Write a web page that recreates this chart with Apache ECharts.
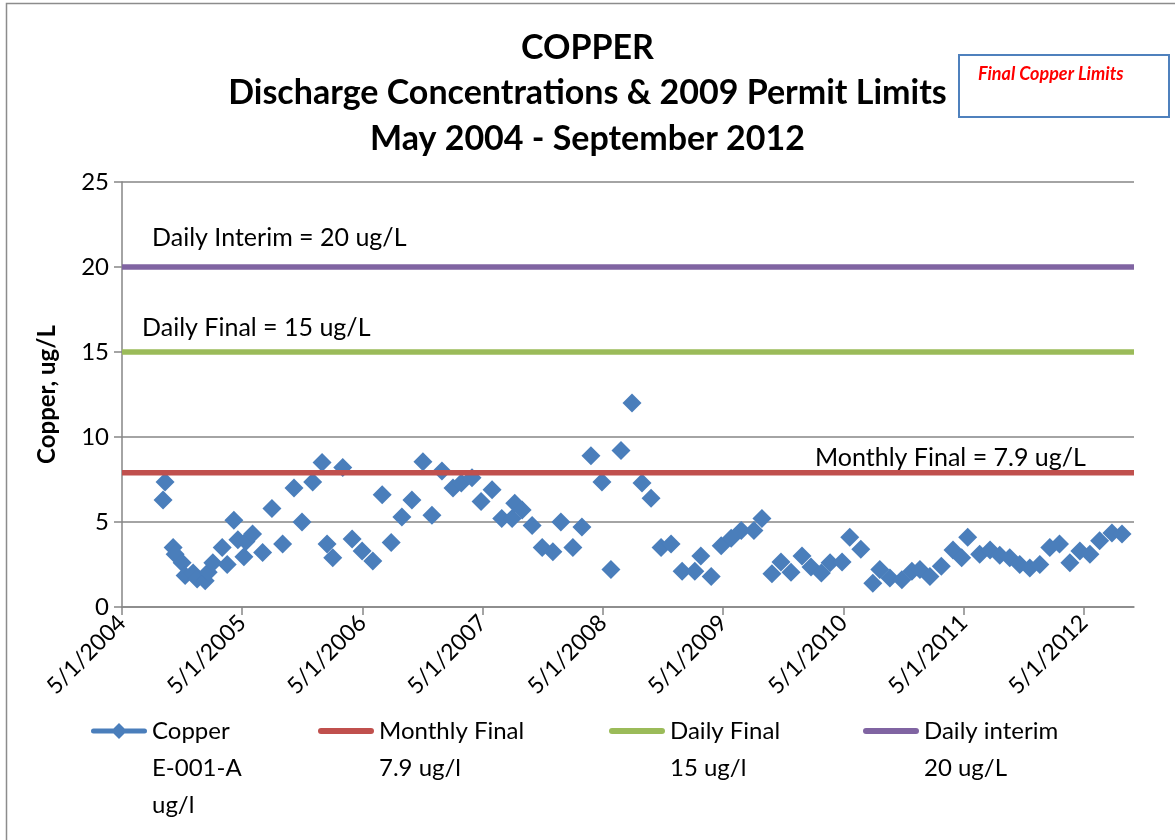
<!DOCTYPE html>
<html>
<head>
<meta charset="utf-8">
<script src="https://cdn.jsdelivr.net/npm/echarts@6/dist/echarts.min.js"></script>
<style>
html,body{margin:0;padding:0;background:#fff;}
#chart{width:1175px;height:840px;}
</style>
</head>
<body>
<div id="chart"></div>
<script>
// ---- data ----
const sampleDates = [
'2004-09-04','2004-09-10','2004-10-04','2004-10-10','2004-11-01','2004-11-10','2004-12-04','2004-12-16',
'2005-01-10','2005-01-19','2005-02-03','2005-03-01','2005-03-16','2005-04-06','2005-04-18','2005-05-06',
'2005-05-12','2005-06-02','2005-07-02','2005-07-30','2005-09-02','2005-10-06','2005-10-30','2005-12-02',
'2005-12-30','2006-01-15','2006-02-02','2006-03-02','2006-03-30','2006-04-30','2006-06-02','2006-06-30',
'2006-07-27','2006-08-29','2006-09-29','2006-11-02','2006-11-29','2006-12-29','2007-02-02','2007-02-27',
'2007-03-29','2007-04-26','2007-05-29','2007-06-28','2007-07-29','2007-08-07','2007-08-29','2007-09-29',
'2007-10-29','2007-12-01','2007-12-25','2008-02-01','2008-02-28','2008-03-25','2008-04-28','2008-05-25',
'2008-06-25','2008-07-28','2008-08-28','2008-09-25','2008-10-25','2008-11-25','2008-12-28','2009-02-06',
'2009-02-24','2009-03-25','2009-04-25','2009-05-25','2009-06-25','2009-08-03','2009-08-27','2009-09-27',
'2009-10-24','2009-11-24','2009-12-27','2010-01-24','2010-02-25','2010-03-21','2010-04-27','2010-05-20',
'2010-06-23','2010-07-29','2010-08-20','2010-09-20','2010-10-26','2010-11-26','2010-12-20','2011-01-20',
'2011-02-24','2011-03-29','2011-04-25','2011-05-13','2011-06-19','2011-07-20','2011-08-19','2011-09-19',
'2011-10-19','2011-11-19','2011-12-19','2012-01-19','2012-02-18','2012-03-19','2012-04-19','2012-05-19',
'2012-06-18','2012-07-25','2012-08-25'
];
const copperValues = [
6.3,7.35,3.5,3.1,2.6,1.85,2.0,1.65,
1.55,2.05,2.6,3.5,2.5,5.1,3.95,2.95,
3.85,4.3,3.2,5.8,3.7,7.0,5.0,7.35,
8.5,3.7,2.9,8.2,4.0,3.3,2.7,6.6,
3.8,5.3,6.3,8.55,5.4,8.0,7.0,7.3,
7.6,6.2,6.9,5.2,5.2,6.1,5.7,4.8,
3.5,3.25,5.0,3.5,4.7,8.9,7.35,2.2,
9.2,12.0,7.3,6.4,3.5,3.7,2.1,2.1,
3.0,1.8,3.6,4.05,4.5,4.5,5.2,1.95,
2.65,2.05,3.0,2.35,2.0,2.6,2.65,4.1,
3.4,1.4,2.2,1.7,1.6,2.1,2.2,1.8,
2.4,3.35,2.9,4.1,3.1,3.35,3.05,2.9,
2.5,2.3,2.5,3.5,3.7,2.6,3.3,3.1,
3.9,4.35,4.3
];
const limitNames = ['Monthly Final\n7.9 ug/l', 'Daily Final\n15 ug/l', 'Daily interim\n20 ug/L'];
const limitValues = [7.9, 15, 20];
const limitLabels = ['Monthly Final = 7.9 ug/L', 'Daily Final = 15 ug/L', 'Daily Interim = 20 ug/L'];
const copperName = 'Copper\nE-001-A\nug/l';
const tickLabels = ['5/1/2004','5/1/2005','5/1/2006','5/1/2007','5/1/2008','5/1/2009','5/1/2010','5/1/2011','5/1/2012'];
// axis start = 5/1/2004, end = 10/1/2012 (in months since start)
const xStartMonth = 0, xEndMonth = 101;

// ---- helpers ----
function toMonth(s){const p=s.split('-').map(Number);return (p[0]-2004)*12+(p[1]-5)+(p[2]-1)/30;}
const copperData = sampleDates.map((d,i)=>[toMonth(d), copperValues[i]]);
const tickValues = tickLabels.map((_,i)=>i*12);

const FONT = 'Lato';
const limitColors = ['#C0504D','#9BBB59','#8064A2'];
const blue = '#4A7EBB';

const labelCfg = [
  {coord:[96.2, limitValues[0]], position:'left', offset:[0,-15]},
  {coord:[2.0, limitValues[1]], position:'right', offset:[0,-24]},
  {coord:[3.0, limitValues[2]], position:'right', offset:[0,-29]}
];

const limitSeries = limitNames.map((n,i)=>({
  name:n, type:'line', z:3, symbol:'none', silent:true,
  data:[[xStartMonth, limitValues[i]],[xEndMonth, limitValues[i]]],
  lineStyle:{color:limitColors[i], width:5.5},
  itemStyle:{color:limitColors[i]},
  markPoint:{
    symbol:'circle', symbolSize:0, silent:true,
    itemStyle:{color:'rgba(0,0,0,0)'},
    label:{show:true, position:labelCfg[i].position, distance:0, offset:labelCfg[i].offset,
      color:'#000', fontFamily:FONT, fontSize:25, formatter:limitLabels[i]},
    data:[{coord:labelCfg[i].coord}]
  }
}));

const copperIcon = 'path://M2.5,5.5L53.5,5.5A2.5,2.5 0 0 1 53.5,10.5L2.5,10.5A2.5,2.5 0 0 1 2.5,5.5Z M28,0L36,8L28,16L20,8Z';
const lineIcon = 'path://M3,0L53,0A3,3 0 0 1 53,6L3,6A3,3 0 0 1 3,0Z';
const LH = 37;
function mkLegend(name, icon, left, centerY, h, lines){
  const blank = lines - 1;
  const total = lines + blank;
  return {data:[{name:name, icon:icon}], left:left, top:centerY - total*LH/2, padding:0,
    itemWidth:56, itemHeight:h, selectedMode:false,
    formatter:function(n){return ' \n'.repeat(blank)+n;},
    textStyle:{fontFamily:FONT, fontSize:24, color:'#000', lineHeight:LH}};
}

const chart = echarts.init(document.getElementById('chart'), null, {renderer:'canvas'});
chart.setOption({
  animation:false,
  backgroundColor:'#fff',
  title:{
    text:'COPPER\nDischarge Concentrations & 2009 Permit Limits\nMay 2004 - September 2012',
    left:'center', top:20,
    textStyle:{fontFamily:FONT, fontWeight:'bold', fontSize:34, lineHeight:45.5, color:'#000'}
  },
  legend:[
    mkLegend(copperName, copperIcon, 91, 731, 16, 3),
    mkLegend(limitNames[0], lineIcon, 318, 731, 6, 2),
    mkLegend(limitNames[1], lineIcon, 609, 731, 6, 2),
    mkLegend(limitNames[2], lineIcon, 863, 731, 6, 2)
  ],
  grid:{left:122, right:41, top:182, bottom:233, containLabel:false},
  xAxis:{
    type:'value', min:xStartMonth, max:xEndMonth, interval:12,
    axisLine:{show:true, lineStyle:{color:'#868686', width:1.5}},
    axisTick:{show:true, length:8, lineStyle:{color:'#868686', width:1.5}, customValues:tickValues},
    axisLabel:{show:true, rotate:45, margin:12, color:'#000', fontFamily:FONT, fontSize:23,
      customValues:tickValues,
      formatter:function(v){const i=Math.round(v/12);return tickLabels[i]||'';}},
    splitLine:{show:false}
  },
  yAxis:{
    type:'value', min:0, max:25, interval:5,
    name:'Copper, ug/L', nameLocation:'middle', nameGap:63, nameRotate:90,
    nameTextStyle:{fontFamily:FONT, fontWeight:'bold', fontSize:24, color:'#000'},
    axisLine:{show:true, lineStyle:{color:'#868686', width:1.5}},
    axisTick:{show:true, length:8, lineStyle:{color:'#868686', width:1.5}},
    axisLabel:{color:'#000', fontFamily:FONT, fontSize:24, margin:13},
    splitLine:{show:true, lineStyle:{color:'#868686', width:1.5}}
  },
  graphic:[
    {type:'rect', left:4, top:1, shape:{width:1400, height:1000}, silent:true,
      style:{fill:'none', stroke:'#8c8c8c', lineWidth:1.5}},
    {type:'rect', left:958, top:54, shape:{width:210, height:62}, silent:true,
      style:{fill:'#fff', stroke:'#4F81BD', lineWidth:2}},
    {type:'text', left:978, top:65, silent:true,
      style:{text:'Final Copper Limits', fill:'#FF0000', font:'italic bold 18px Lato'}}
  ],
  series:[
    {name:copperName, type:'scatter', z:2, symbol:'diamond', symbolSize:19,
      itemStyle:{color:blue, opacity:1}, data:copperData},
    ...limitSeries
  ]
});
</script>
</body>
</html>
